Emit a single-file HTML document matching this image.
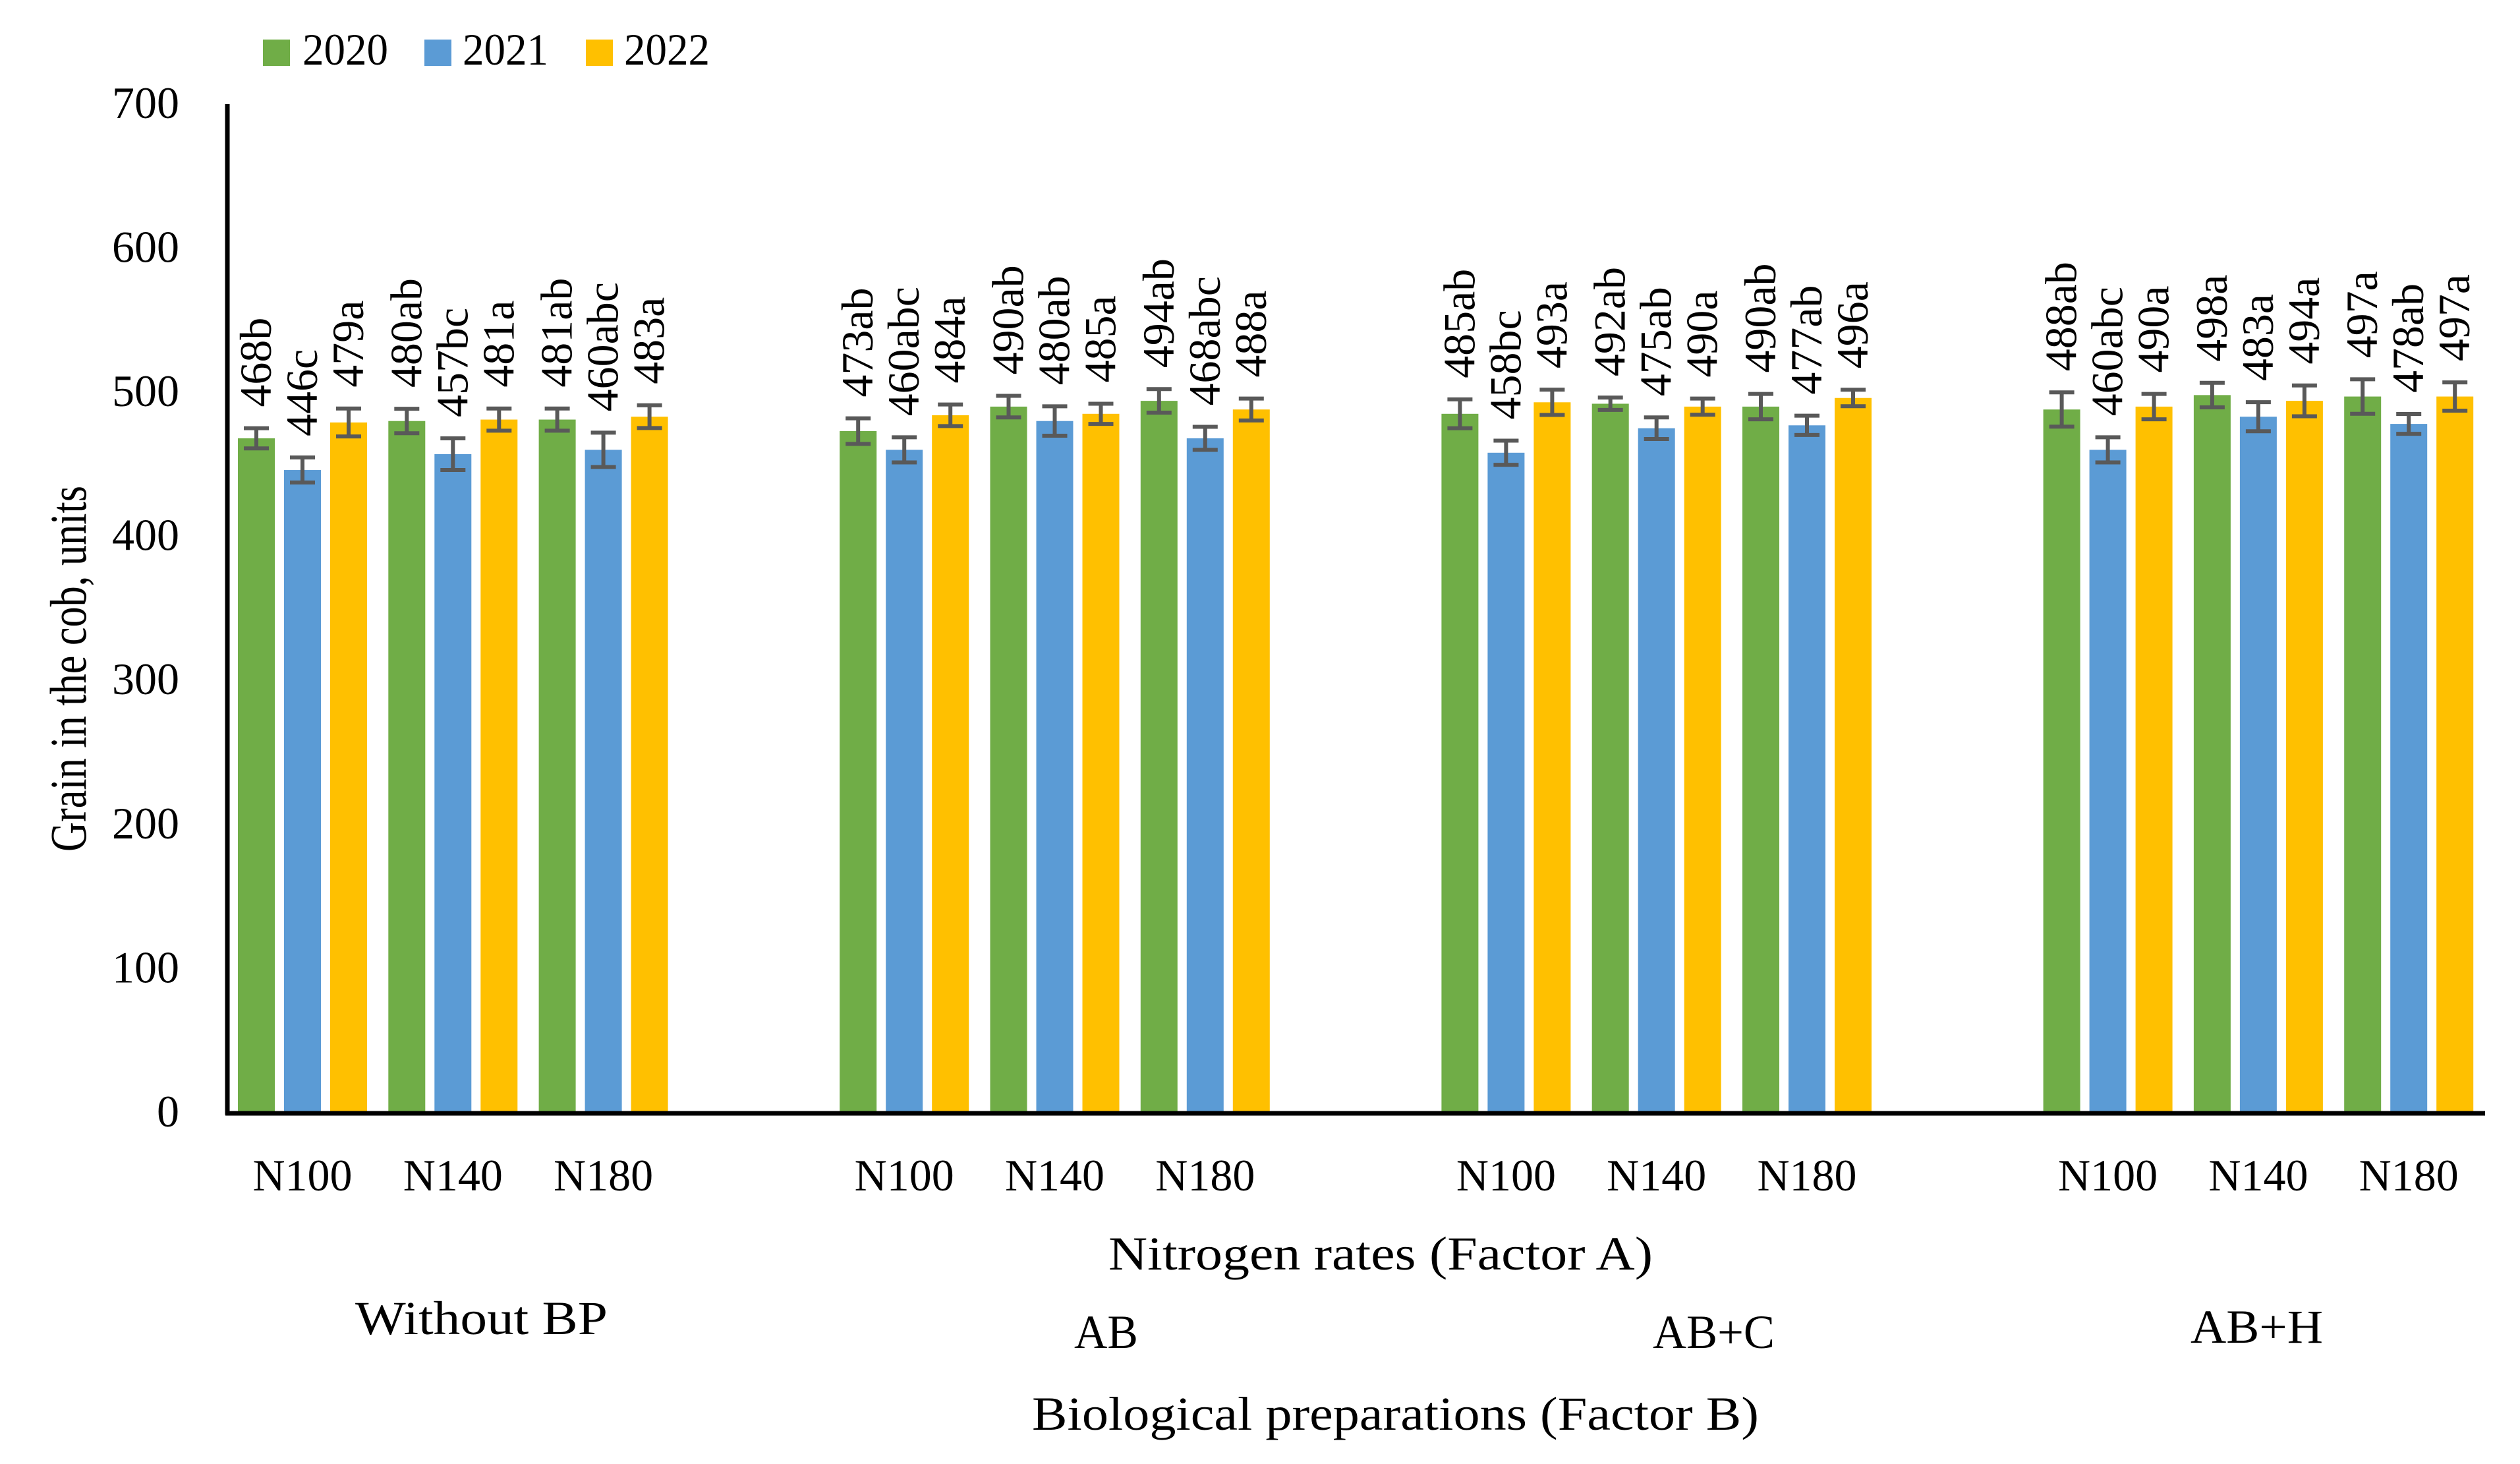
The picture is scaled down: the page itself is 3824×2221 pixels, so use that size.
<!DOCTYPE html>
<html><head><meta charset="utf-8"><style>
html,body{margin:0;padding:0;background:#fff;}
svg{display:block;font-family:"Liberation Serif",serif;}
</style></head><body>
<svg id="chart" xmlns="http://www.w3.org/2000/svg" width="3824" height="2221" viewBox="0 0 3824 2221">
<g id="legend">
<rect x="399" y="60" width="41" height="40" fill="#70AD47"/>
<text x="459" y="98" font-size="68" textLength="130" lengthAdjust="spacingAndGlyphs">2020</text>
<rect x="644" y="60" width="41" height="40" fill="#5B9BD5"/>
<text x="702" y="98" font-size="68" textLength="130" lengthAdjust="spacingAndGlyphs">2021</text>
<rect x="889" y="60" width="41" height="40" fill="#FFC000"/>
<text x="947" y="98" font-size="68" textLength="130" lengthAdjust="spacingAndGlyphs">2022</text>
</g>
<g id="yticks"></g>
<g id="bars"></g>
<g id="errs"></g>
<g id="labels"></g>
<g id="xlabels"></g>
<line x1="345" y1="158" x2="345" y2="1691" stroke="#000" stroke-width="7"/>
<line x1="342" y1="1689" x2="3771" y2="1689" stroke="#000" stroke-width="7"/>
<text transform="translate(130,1292) rotate(-90)" font-size="78" textLength="555" lengthAdjust="spacingAndGlyphs">Grain in the cob, units</text>
<text x="1682" y="1926" font-size="72" textLength="826" lengthAdjust="spacingAndGlyphs">Nitrogen rates (Factor A)</text>
<text x="539" y="2024" font-size="72" textLength="383" lengthAdjust="spacingAndGlyphs">Without BP</text>
<text x="1630" y="2045" font-size="72" textLength="97" lengthAdjust="spacingAndGlyphs">AB</text>
<text x="2508" y="2045" font-size="72" textLength="185" lengthAdjust="spacingAndGlyphs">AB+C</text>
<text x="3324" y="2037" font-size="72" textLength="201" lengthAdjust="spacingAndGlyphs">AB+H</text>
<text x="1566" y="2169" font-size="72" textLength="1103" lengthAdjust="spacingAndGlyphs">Biological preparations (Factor B)</text>
</svg>
<script>
const categories = ["N100","N140","N180","N100","N140","N180","N100","N140","N180","N100","N140","N180"];
const v2020 = [468,480,481,473,490,494,485,492,490,488,498,497];
const v2021 = [446,457,460,460,480,468,458,475,477,460,483,478];
const v2022 = [479,481,483,484,485,488,493,490,496,490,494,497];
const e2020 = [7,8.5,7.7,8.9,7.5,8.2,10,4.3,8.8,11.9,8.5,12];
const e2021 = [8.7,11,11.9,8.7,10.2,8,8.4,7.5,6.7,8.7,10.1,6.9];
const e2022 = [9.7,7.7,7.9,7.5,7,7.6,8.8,5.6,5.7,8.8,10.7,9.8];
const l2020 = ["468b","480ab","481ab","473ab","490ab","494ab","485ab","492ab","490ab","488ab","498a","497a"];
const l2021 = ["446c","457bc","460abc","460abc","480ab","468abc","458bc","475ab","477ab","460abc","483a","478ab"];
const l2022 = ["479a","481a","483a","484a","485a","488a","493a","490a","496a","490a","494a","497a"];
const yTicks = [0,100,200,300,400,500,600,700];
const colors = ["#70AD47","#5B9BD5","#FFC000"];

const NS="http://www.w3.org/2000/svg";
const y0=1688, k=2.186;
function yScale(v){return y0 - v*k;}
const catW=228.3, x0=345;
function catIndex(i){return Math.floor(i/3)*4 + (i%3);}
function barX(i,s){return x0 + catIndex(i)*catW + 16 + s*70;}
function mk(tag,attrs,parent){const e=document.createElementNS(NS,tag);for(const a in attrs)e.setAttribute(a,attrs[a]);parent.appendChild(e);return e;}

const yt=document.getElementById('yticks');
yTicks.forEach(t=>{
  const e=mk('text',{x:272,y:yScale(t)+21,'font-size':68,'text-anchor':'end'},yt);
  
  
  e.textContent=t;
});

const series=[[v2020,e2020,l2020],[v2021,e2021,l2021],[v2022,e2022,l2022]];
const years=["2020","2021","2022"];
const bg=document.getElementById('bars'),eg=document.getElementById('errs'),lg=document.getElementById('labels');
series.forEach((ser,s)=>{
  const [vals,errs,labs]=ser;
  vals.forEach((v,i)=>{
    const x=barX(i,s), w=56, cx=x+w/2;
    const r=mk('rect',{x:x,y:yScale(v),width:w,height:y0-yScale(v),fill:colors[s]},bg);
    
    
    const top=yScale(v+errs[i]), bot=yScale(v-errs[i]);
    const g=mk('g',{stroke:'#595959','stroke-width':6},eg);
    
    
    mk('line',{x1:cx,y1:top,x2:cx,y2:bot},g);
    mk('line',{x1:cx-19,y1:top,x2:cx+19,y2:top},g);
    mk('line',{x1:cx-19,y1:bot,x2:cx+19,y2:bot},g);
    const t=mk('text',{transform:'translate('+(cx+22)+','+(top-32)+') rotate(-90)','font-size':68},lg);
    
    
    t.textContent=labs[i];
  });
});

const xg=document.getElementById('xlabels');
categories.forEach((c,i)=>{
  const cx=barX(i,1)+28;
  const t=mk('text',{x:cx,y:1806,'font-size':68,'text-anchor':'middle'},xg);
  
  
  t.textContent=c;
});
</script>
</body></html>
